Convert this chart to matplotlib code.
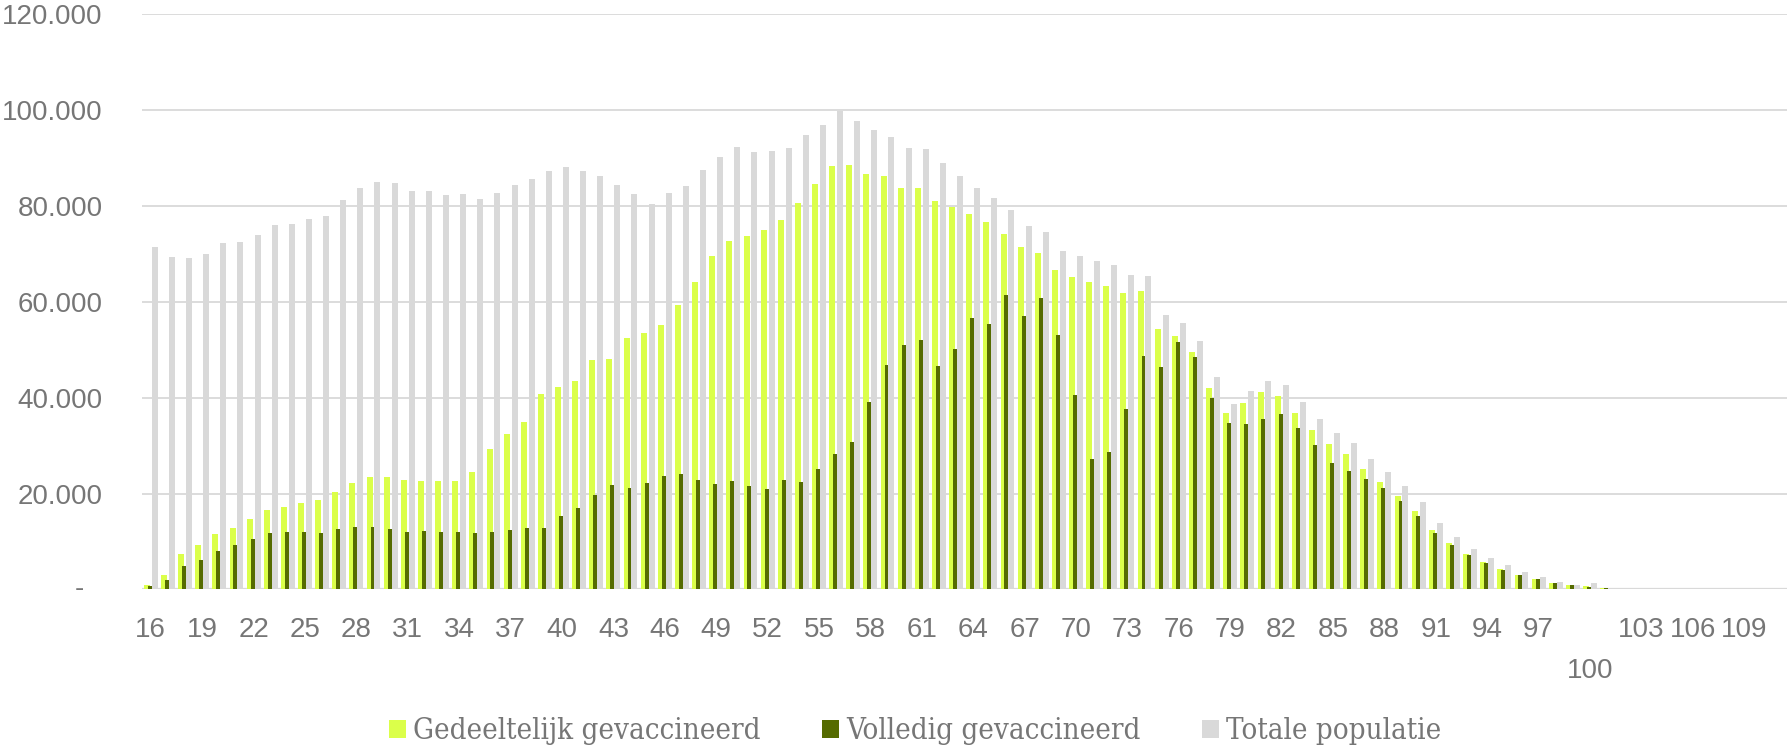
import numpy as np
import matplotlib
matplotlib.use("Agg")
import matplotlib.pyplot as plt
from matplotlib.patches import Patch
from matplotlib.ticker import FuncFormatter

# leeftijden 16..111
ages = list(range(16, 112))

# aantallen in duizendtallen
gedeeltelijk = [
    0.9, 3.0, 7.4, 9.2, 11.5, 12.8, 14.7, 16.6, 17.2, 18.1, 18.6, 20.4, 22.3, 23.5, 23.5, 22.8,
    22.7, 22.7, 22.6, 24.6, 29.3, 32.5, 35.0, 40.9, 42.3, 43.6, 47.9, 48.2, 52.4, 53.6, 55.3, 59.3,
    64.1, 69.6, 72.8, 73.7, 75.0, 77.1, 80.6, 84.7, 88.4, 88.5, 86.7, 86.3, 83.7, 83.7, 81.0, 79.9,
    78.3, 76.7, 74.2, 71.4, 70.3, 66.6, 65.3, 64.1, 63.4, 61.9, 62.2, 54.3, 52.9, 49.5, 42.0, 36.9,
    39.0, 41.2, 40.3, 36.9, 33.3, 30.3, 28.3, 25.2, 22.5, 19.6, 16.3, 12.4, 9.7, 7.4, 5.7, 4.2,
    3.1, 2.2, 1.4, 0.9, 0.7, 0.4, 0.15, 0.1, 0.1, 0.08, 0.08, 0.06, 0, 0, 0, 0,
]
volledig = [
    0.7, 2.0, 4.8, 6.2, 8.0, 9.2, 10.6, 11.7, 12.1, 12.1, 11.8, 12.6, 13.0, 13.0, 12.6, 12.0,
    12.3, 11.9, 12.0, 11.7, 11.9, 12.4, 12.8, 12.8, 15.4, 17.1, 19.8, 21.8, 21.2, 22.3, 23.6, 24.1,
    22.8, 22.1, 22.6, 21.6, 21.0, 22.8, 22.5, 25.2, 28.3, 30.8, 39.1, 46.8, 51.0, 52.0, 46.6, 50.2,
    56.7, 55.5, 61.4, 57.1, 60.9, 53.2, 40.6, 27.2, 28.6, 37.6, 48.8, 46.5, 51.7, 48.5, 39.9, 34.7,
    34.6, 35.5, 36.7, 33.8, 30.2, 26.5, 24.8, 23.0, 21.1, 18.4, 15.4, 11.7, 9.3, 7.1, 5.5, 4.0,
    3.0, 2.1, 1.3, 0.9, 0.6, 0.35, 0.1, 0.05, 0.05, 0.04, 0.04, 0.03, 0, 0, 0, 0,
]
totaal = [
    71.5, 69.3, 69.2, 70.1, 72.4, 72.6, 73.9, 76.0, 76.3, 77.3, 78.0, 81.3, 83.8, 85.0, 84.8, 83.1,
    83.2, 82.4, 82.5, 81.4, 82.7, 84.5, 85.7, 87.4, 88.1, 87.4, 86.3, 84.5, 82.5, 80.5, 82.7, 84.2,
    87.6, 90.2, 92.3, 91.3, 91.6, 92.2, 94.8, 96.9, 99.8, 97.8, 95.9, 94.4, 92.1, 92.0, 88.9, 86.3,
    83.7, 81.7, 79.1, 75.8, 74.7, 70.6, 69.5, 68.5, 67.7, 65.7, 65.5, 57.2, 55.6, 51.9, 44.3, 38.8,
    41.4, 43.6, 42.7, 39.2, 35.6, 32.6, 30.6, 27.2, 24.5, 21.6, 18.2, 13.8, 10.9, 8.4, 6.6, 5.1,
    3.6, 2.6, 1.6, 1.0, 1.25, 0.3, 0.15, 0.1, 0.08, 0.06, 0.05, 0.04, 0.03, 0.03, 0.02, 0.02,
]

labels = ['Gedeeltelijk gevaccineerd', 'Volledig gevaccineerd', 'Totale populatie']
kleuren = ['#DBFF4A', '#556B00', '#D9D9D9']
tekstkleur = '#767676'

x = np.arange(len(ages))
breedte = 0.35
stap = 0.23

fig = plt.figure(figsize=(17.87, 7.46), dpi=100)
ax = fig.add_axes([0.0796, 0.2098, 0.9204, 0.7708])

series = [gedeeltelijk, volledig, totaal]
for i, (s, kleur) in enumerate(zip(series, kleuren)):
    ax.bar(x + (i - 1) * stap, np.array(s) * 1000, width=breedte, color=kleur,
           linewidth=0, zorder=2 + i)

ax.set_xlim(-0.5, len(ages) - 0.5)
ax.set_ylim(0, 120000)
ax.set_yticks(np.arange(0, 120001, 20000))
ax.yaxis.set_major_formatter(FuncFormatter(
    lambda v, p: '' if v == 0 else f'{v:,.0f}'.replace(',', '.')))
ax.grid(axis='y', color='#D9D9D9', linewidth=1.3, zorder=0)
ax.axhline(0, color='#D9D9D9', linewidth=1.6, zorder=1)
ax.annotate('-', xy=(0, 0), xycoords=('axes fraction', 'data'), xytext=(-42, 0),
            textcoords='offset points', ha='right', va='center',
            fontsize=20, color=tekstkleur, family='Liberation Sans')

# x-labels: elke derde leeftijd, 100 staat een rij lager
idx_100 = ages.index(100)
major = [i for i in range(0, len(ages), 3) if i != idx_100]
ax.set_xticks(major)
ax.set_xticklabels([str(ages[i]) for i in major])
ax.set_xticks([idx_100], minor=True)
ax.set_xticklabels(['100'], minor=True)
ax.tick_params(axis='x', which='major', length=0, pad=20, labelsize=20, labelcolor=tekstkleur)
ax.tick_params(axis='x', which='minor', length=0, pad=49, labelsize=20, labelcolor=tekstkleur)
ax.tick_params(axis='y', length=0, pad=28.5, labelsize=20, labelcolor=tekstkleur)
for t in ax.get_xticklabels(which='both') + ax.get_yticklabels():
    t.set_family('Liberation Sans')

for sp in ax.spines.values():
    sp.set_visible(False)

handles = [Patch(facecolor=k, edgecolor='none') for k in kleuren]
leg = fig.legend(handles, labels, loc='center', bbox_to_anchor=(0.512, 0.0200),
                 ncol=3, frameon=False, borderpad=0, handlelength=0.58, handleheight=0.58,
                 handletextpad=0.24, columnspacing=2.1,
                 prop={'family': 'DejaVu Serif', 'stretch': 'condensed', 'size': 21.1})
for t in leg.get_texts():
    t.set_color(tekstkleur)

fig.savefig('out.png', dpi=100)
